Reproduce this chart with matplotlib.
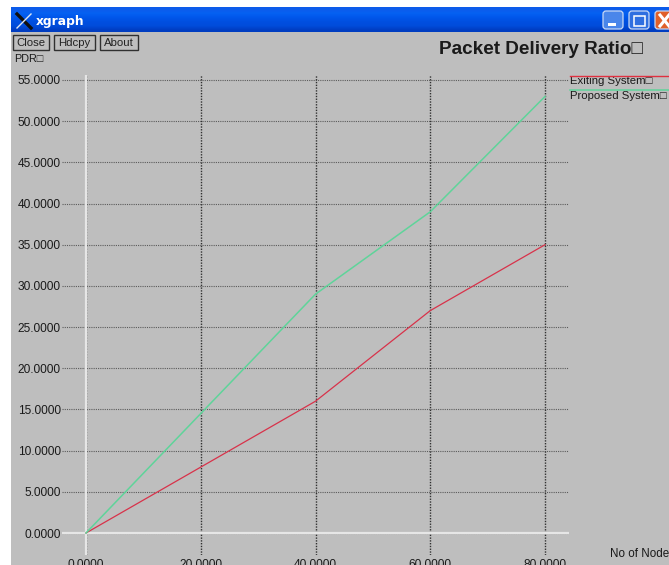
import numpy as np
import matplotlib
matplotlib.use("Agg")
import matplotlib.pyplot as plt
from matplotlib.patches import Rectangle, FancyBboxPatch

nodes = [0, 20, 40, 60, 80]
exiting = [0, 8, 16, 27, 35]
proposed = [0, 14.5, 29, 39, 53]
x_ticks = [0, 20, 40, 60, 80]
y_ticks = [0, 5, 10, 15, 20, 25, 30, 35, 40, 45, 50, 55]

W, H = 669, 565
BODY = "#bebebe"
plt.rcParams["font.family"] = ["Liberation Sans", "DejaVu Sans"]
fig = plt.figure(figsize=(W / 100, H / 100), dpi=100, facecolor="white")

# window chrome in pixel coordinates
bg = fig.add_axes([0, 0, 1, 1])
bg.axis("off")
bg.add_patch(Rectangle((11, 32), W - 11, H - 32, fc=BODY, ec="none"))
grad = np.array([[0.05, 0.36, 0.92], [0.02, 0.38, 0.95], [0.00, 0.34, 0.92],
                 [0.00, 0.31, 0.88], [0.00, 0.30, 0.86], [0.00, 0.24, 0.76]])[:, None, :]
bg.imshow(grad, extent=(11, W, 32, 7), aspect="auto", interpolation="bilinear", zorder=1)
bg.set_xlim(0, W)
bg.set_ylim(H, 0)
bg.plot([17, 31], [14, 28], color="#101010", lw=2.4, zorder=2)
bg.plot([31, 17], [14, 28], color="#dfe6f0", lw=1.0, zorder=2)
bg.text(36, 22, "xgraph", color="white", fontsize=8.8, fontweight="bold", va="center", zorder=3,
        family="DejaVu Sans")

# window buttons
for x0, col in [(602, "#4a86ea"), (628, "#2f6fe0"), (654, "#e0602a")]:
    bg.add_patch(FancyBboxPatch((x0 + 1, 11), 20, 18, boxstyle="round,pad=0,rounding_size=3",
                                fc=col, ec="#c8d8f4", lw=0.9, zorder=3))
bg.add_patch(Rectangle((608, 23), 8, 2.5, fc="white", ec="none", zorder=4))
bg.add_patch(Rectangle((634, 16), 11, 10, fc="none", ec="white", lw=1.1, zorder=4))
bg.plot([660, 669], [15, 26], color="white", lw=2.2, zorder=4)
bg.plot([660, 669], [26, 15], color="white", lw=2.2, zorder=4)

# xgraph buttons
for x0, x1, lab in [(13, 49, "Close"), (54, 95, "Hdcpy"), (100, 138, "About")]:
    bg.add_patch(Rectangle((x0, 35), x1 - x0, 15, fc=BODY, ec="#303030", lw=1.0, zorder=2))
    bg.text((x0 + x1) / 2, 42.5, lab, fontsize=8.2, color="#222222", ha="center", va="center", zorder=3)

TXT = "#1a1a1a"
bg.text(14, 59, "PDR□", fontsize=7.8, color=TXT, va="center")
bg.text(439, 49, "Packet Delivery Ratio□", fontsize=13.6, fontweight="bold", color=TXT, va="center")
bg.text(570, 81, "Exiting System□", fontsize=8.2, color=TXT, va="center")
bg.text(570, 96, "Proposed System□", fontsize=8.2, color=TXT, va="center")
bg.text(610, 554, "No of Node", fontsize=8.4, color=TXT, va="center")

# plot area: pixel frame chosen so that 0..80 -> 86..545 and 0..55 -> 533..80
px_l, px_r, px_t, px_b = 62, 569, 75, 555
sx = (545 - 86) / 80
sy = (533 - 80) / 55
ax = fig.add_axes([px_l / W, 1 - px_b / H, (px_r - px_l) / W, (px_b - px_t) / H])
ax.patch.set_alpha(0)
ax.set_xlim((px_l - 86) / sx, (px_r - 86) / sx)
ax.set_ylim((533 - px_b) / sy, (533 - px_t) / sy)
for s in ax.spines.values():
    s.set_visible(False)
ax.set_xticks(x_ticks, [f"{v:.4f}" for v in x_ticks])
ax.set_yticks(y_ticks, [f"{v:.4f}" for v in y_ticks])
ax.tick_params(length=0, labelsize=8.6, labelcolor=TXT)
ax.tick_params(axis="x", pad=3)
ax.tick_params(axis="y", pad=1)
ax.grid(True, axis="y", color="#3a3a3a", lw=0.8, ls=(0, (1, 1)), alpha=0.75)
ax.grid(True, axis="x", color="#222222", lw=1.0, ls=(0, (1, 1)), alpha=0.9)
ax.axhline(0, color="#e6e6e6", lw=1.6, zorder=2)
ax.axvline(0, color="#e6e6e6", lw=1.6, zorder=2)
ax.plot(nodes, exiting, color="#d8324a", lw=0.9, zorder=3)
ax.plot(nodes, proposed, color="#5fd49a", lw=1.1, zorder=3)

# legend line samples
bg.plot([570, 669], [75.5, 75.5], color="#e03040", lw=1.0, zorder=3)
bg.plot([570, 669], [90, 90], color="#5fd49a", lw=1.1, zorder=3)

fig.savefig("out.png", dpi=100, facecolor="white")
